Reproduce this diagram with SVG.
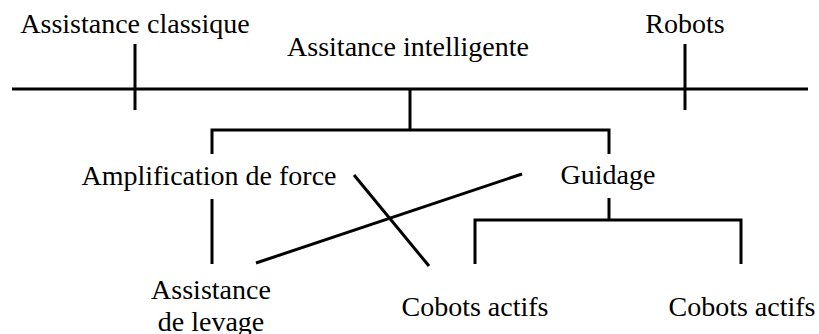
<svg xmlns="http://www.w3.org/2000/svg" width="819" height="334" viewBox="0 0 819 334">
<style>
text{font-family:"Liberation Serif","Times New Roman",serif;font-size:28px;fill:#000;text-anchor:middle}
.c line,.c polyline{stroke:#000;stroke-width:3;fill:none}
</style>
<rect width="819" height="334" fill="#fff"/>
<g class="c" id="connectors">
<line x1="12" y1="89" x2="808" y2="89"/>
<line x1="135" y1="44" x2="135" y2="110"/>
<line x1="685" y1="44" x2="685" y2="110"/>
<line x1="410" y1="89" x2="410" y2="130"/>
<polyline points="212,154 212,130 609,130 609,154"/>
<line x1="212" y1="199" x2="212" y2="264"/>
<line x1="256" y1="263" x2="522" y2="174"/>
<line x1="354" y1="175" x2="429" y2="266"/>
<line x1="609" y1="198" x2="609" y2="220"/>
<polyline points="475,264 475,220 741,220 741,264"/>
</g>
<g id="n-classique"><text x="135" y="33">Assistance classique</text></g>
<g id="n-intelligente"><text x="408" y="56">Assitance intelligente</text></g>
<g id="n-robots"><text x="685" y="33">Robots</text></g>
<g id="n-amplification"><text x="209" y="185">Amplification de force</text></g>
<g id="n-guidage"><text x="608" y="184">Guidage</text></g>
<g id="n-levage"><text x="211" y="299">Assistance</text><text x="211" y="331">de levage</text></g>
<g id="n-cobots1"><text x="475" y="316">Cobots actifs</text></g>
<g id="n-cobots2"><text x="742" y="316">Cobots actifs</text></g>
</svg>
